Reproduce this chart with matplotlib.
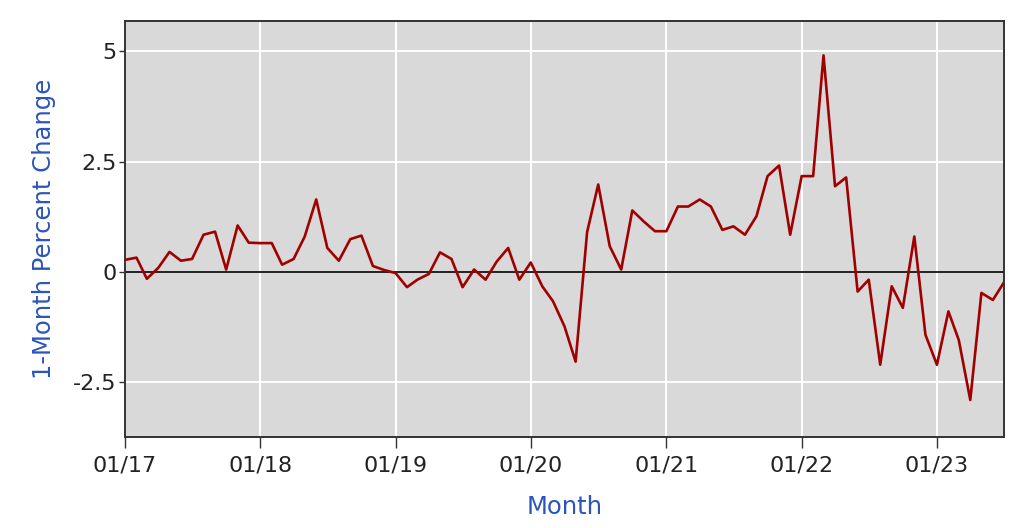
import matplotlib
matplotlib.use('Agg')
import matplotlib.pyplot as plt
import matplotlib.dates as mdates
import pandas as pd

# 1-month percent change, monthly from 01/2017 to 07/2023
start_month = "2017-01-01"
pct_change = [
    0.27, 0.32, -0.16, 0.09, 0.45, 0.25, 0.29, 0.84, 0.91, 0.05, 1.05, 0.66,   # 2017
    0.65, 0.65, 0.16, 0.29, 0.80, 1.64, 0.54, 0.25, 0.74, 0.82, 0.13, 0.04,    # 2018
    -0.03, -0.35, -0.18, -0.05, 0.44, 0.29, -0.35, 0.05, -0.18, 0.23, 0.54, -0.18,  # 2019
    0.21, -0.33, -0.67, -1.24, -2.04, 0.90, 1.98, 0.58, 0.05, 1.39, 1.14, 0.92,  # 2020
    0.92, 1.48, 1.48, 1.64, 1.48, 0.95, 1.03, 0.84, 1.26, 2.17, 2.41, 0.84,    # 2021
    2.17, 2.17, 4.91, 1.94, 2.14, -0.45, -0.18, -2.11, -0.33, -0.82, 0.80, -1.43,  # 2022
    -2.11, -0.90, -1.55, -2.91, -0.48, -0.64, -0.24,                           # 2023
]
months = pd.date_range(start_month, periods=len(pct_change), freq="MS")
y_ticks = [-2.5, 0, 2.5, 5]
y_tick_labels = ["-2.5", "0", "2.5", "5"]

label_color = "#2b55bb"

fig = plt.figure(figsize=(10.24, 5.28), dpi=100)
ax = fig.add_axes([125 / 1024, 1 - 437 / 528, (1004 - 125) / 1024, (437 - 21) / 528])
ax.set_facecolor("#d9d9d9")

ax.plot(months, pct_change, color="#a00000", linewidth=1.9, zorder=3)
ax.axhline(0, color="#222222", linewidth=1.4, zorder=2)

ax.set_xlim(months[0], months[-1])
ax.set_ylim(-3.75, 5.69)
ax.set_yticks(y_ticks)
ax.set_yticklabels(y_tick_labels)
ax.xaxis.set_major_locator(mdates.YearLocator())
ax.xaxis.set_major_formatter(mdates.DateFormatter("%m/%y"))

ax.grid(True, color="white", linewidth=1.4)
ax.set_axisbelow(True)
for spine in ax.spines.values():
    spine.set_color("#333333")
    spine.set_linewidth(1.4)

ax.tick_params(axis="both", direction="out", width=1, colors="#333333",
               labelsize=16, labelcolor="#222222")
ax.tick_params(axis="x", length=8, pad=5)
ax.tick_params(axis="y", length=4, pad=2)
ax.set_xlabel("Month", color=label_color, fontsize=17.5, labelpad=14)
ax.set_ylabel("1-Month Percent Change", color=label_color, fontsize=17.5, labelpad=12)

plt.savefig("out.png", dpi=100)
plt.close(fig)
